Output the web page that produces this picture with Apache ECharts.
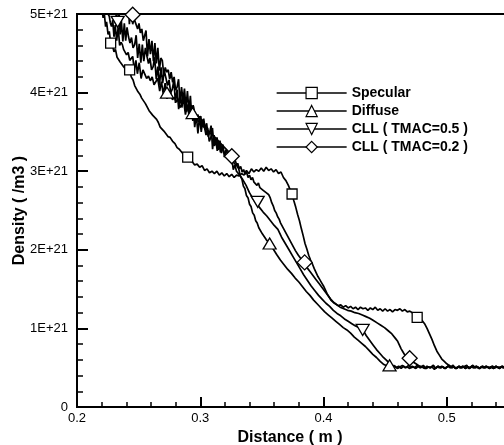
<!DOCTYPE html>
<html><head><meta charset="utf-8">
<script src="https://cdn.jsdelivr.net/npm/echarts@6.0.0/dist/echarts.min.js"></script>
<style>html,body{margin:0;padding:0;background:#fff}#c{width:504px;height:445px}</style>
</head><body><div id="c"></div><script>
// Density values are in units of 1E+21 /m3; distance in m.
const specularCurve = [
[0.2200,5.10],[0.2212,4.95],[0.2220,5.03],[0.2232,4.84],[0.2240,4.90],[0.2252,4.74],[0.2262,4.78],[0.2273,4.63],
[0.2288,4.60],[0.2300,4.52],[0.2312,4.55],[0.2325,4.45],[0.2338,4.47],[0.2350,4.39],[0.2362,4.41],[0.2378,4.33],
[0.2392,4.35],[0.2410,4.27],[0.2427,4.29],[0.2440,4.20],[0.2455,4.16],[0.2468,4.09],[0.2480,4.10],[0.2495,4.01],
[0.2510,3.98],[0.2525,3.93],[0.2540,3.95],[0.2555,3.86],[0.2570,3.84],[0.2585,3.77],[0.2600,3.78],[0.2615,3.71],
[0.2630,3.70],[0.2646,3.66],[0.2660,3.62],[0.2675,3.56],[0.2690,3.58],[0.2705,3.51],[0.2720,3.49],[0.2738,3.44],
[0.2755,3.43],[0.2776,3.38],[0.2795,3.35],[0.2812,3.30],[0.2830,3.28],[0.2850,3.24],[0.2870,3.21],[0.2898,3.18],
[0.2915,3.13],[0.2935,3.12],[0.2955,3.08],[0.2975,3.09],[0.2995,3.05],[0.3015,3.07],[0.3035,3.01],[0.3055,3.03],
[0.3075,2.98],[0.3095,3.00],[0.3115,2.97],[0.3135,3.00],[0.3155,2.95],[0.3175,2.98],[0.3195,2.94],[0.3215,2.97],
[0.3235,2.93],[0.3255,2.96],[0.3275,2.92],[0.3295,2.95],[0.3315,2.94],[0.3335,2.97],[0.3355,2.95],[0.3375,3.01],
[0.3395,2.97],[0.3415,3.03],[0.3435,2.99],[0.3455,3.02],[0.3475,3.00],[0.3495,3.04],[0.3515,3.00],[0.3535,3.05],
[0.3555,3.01],[0.3575,3.03],[0.3595,2.99],[0.3615,3.02],[0.3635,2.97],[0.3655,2.99],[0.3675,2.92],[0.3695,2.88],
[0.3715,2.82],[0.3730,2.76],[0.3745,2.71],[0.3760,2.62],[0.3775,2.54],[0.3790,2.45],[0.3805,2.37],[0.3820,2.27],
[0.3835,2.18],[0.3850,2.08],[0.3865,2.01],[0.3880,1.93],[0.3895,1.87],[0.3910,1.82],[0.3925,1.76],[0.3940,1.71],
[0.3955,1.66],[0.3970,1.62],[0.3985,1.58],[0.4000,1.54],[0.4015,1.49],[0.4030,1.44],[0.4045,1.40],[0.4060,1.36],
[0.4080,1.33],[0.4100,1.31],[0.4120,1.29],[0.4140,1.30],[0.4160,1.27],[0.4180,1.29],[0.4200,1.26],[0.4220,1.28],
[0.4240,1.25],[0.4260,1.27],[0.4280,1.24],[0.4300,1.27],[0.4320,1.25],[0.4340,1.26],[0.4360,1.23],[0.4380,1.26],
[0.4400,1.24],[0.4420,1.27],[0.4440,1.23],[0.4460,1.25],[0.4480,1.22],[0.4500,1.25],[0.4520,1.22],[0.4540,1.24],
[0.4560,1.21],[0.4580,1.24],[0.4600,1.23],[0.4620,1.25],[0.4640,1.22],[0.4660,1.24],[0.4680,1.21],[0.4700,1.22],
[0.4720,1.20],[0.4740,1.17],[0.4760,1.14],[0.4780,1.12],[0.4800,1.10],[0.4820,1.06],[0.4840,1.00],[0.4860,0.93],
[0.4880,0.86],[0.4900,0.78],[0.4920,0.71],[0.4940,0.66],[0.4960,0.61],[0.4980,0.58],[0.5000,0.55],[0.5020,0.53]];

const diffuseCurve = [
[0.2235,5.12],[0.2245,5.03],[0.2252,5.00],[0.2262,4.97],[0.2270,4.89],[0.2280,4.84],[0.2290,4.92],[0.2300,4.71],
[0.2310,4.86],[0.2322,4.66],[0.2334,4.83],[0.2346,4.60],[0.2358,4.64],[0.2368,4.61],[0.2378,4.55],[0.2390,4.54],
[0.2402,4.48],[0.2415,4.51],[0.2428,4.41],[0.2440,4.40],[0.2452,4.46],[0.2465,4.28],[0.2478,4.41],[0.2490,4.24],
[0.2505,4.38],[0.2520,4.18],[0.2535,4.29],[0.2550,4.27],[0.2565,4.18],[0.2580,4.21],[0.2595,4.15],[0.2610,4.20],
[0.2625,4.10],[0.2640,4.11],[0.2655,4.18],[0.2671,4.02],[0.2685,4.14],[0.2700,3.98],[0.2715,4.12],[0.2730,3.92],
[0.2745,4.03],[0.2760,4.00],[0.2775,3.91],[0.2790,3.94],[0.2805,3.88],[0.2820,3.92],[0.2835,3.81],[0.2850,3.83],
[0.2865,3.90],[0.2880,3.72],[0.2895,3.85],[0.2910,3.70],[0.2925,3.84],[0.2940,3.64],[0.2955,3.74],[0.2970,3.71],
[0.2985,3.63],[0.3000,3.61],[0.3015,3.63],[0.3030,3.56],[0.3045,3.58],[0.3060,3.52],[0.3075,3.54],[0.3090,3.47],
[0.3105,3.49],[0.3120,3.43],[0.3135,3.45],[0.3150,3.38],[0.3165,3.40],[0.3180,3.33],[0.3195,3.35],[0.3210,3.28],
[0.3225,3.30],[0.3240,3.23],[0.3255,3.24],[0.3270,3.16],[0.3285,3.13],[0.3300,3.06],[0.3312,3.03],[0.3325,2.94],
[0.3338,2.90],[0.3350,2.81],[0.3362,2.78],[0.3375,2.69],[0.3388,2.66],[0.3400,2.58],[0.3412,2.55],[0.3425,2.47],
[0.3438,2.44],[0.3450,2.37],[0.3462,2.34],[0.3475,2.28],[0.3490,2.26],[0.3505,2.20],[0.3520,2.18],[0.3535,2.13],
[0.3550,2.12],[0.3563,2.08],[0.3578,2.05],[0.3592,2.01],[0.3606,1.99],[0.3620,1.94],[0.3635,1.92],[0.3650,1.87],
[0.3665,1.86],[0.3680,1.81],[0.3695,1.80],[0.3710,1.75],[0.3725,1.74],[0.3740,1.70],[0.3755,1.69],[0.3770,1.64],
[0.3785,1.63],[0.3800,1.59],[0.3815,1.58],[0.3830,1.53],[0.3845,1.52],[0.3860,1.47],[0.3875,1.46],[0.3890,1.42],
[0.3905,1.41],[0.3920,1.36],[0.3935,1.35],[0.3950,1.31],[0.3965,1.30],[0.3980,1.26],[0.3995,1.25],[0.4010,1.21],
[0.4025,1.21],[0.4040,1.17],[0.4055,1.16],[0.4070,1.13],[0.4085,1.12],[0.4100,1.09],[0.4115,1.08],[0.4130,1.05],
[0.4145,1.04],[0.4160,1.01],[0.4175,1.01],[0.4190,0.98],[0.4205,0.98],[0.4220,0.94],[0.4235,0.93],[0.4250,0.89],
[0.4265,0.88],[0.4280,0.85],[0.4295,0.85],[0.4310,0.81],[0.4325,0.80],[0.4340,0.77],[0.4355,0.76],[0.4370,0.72],
[0.4385,0.71],[0.4400,0.67],[0.4415,0.66],[0.4430,0.63],[0.4445,0.62],[0.4460,0.58],[0.4475,0.57],[0.4490,0.54],
[0.4505,0.55],[0.4520,0.52],[0.4536,0.53]];

const cll05Curve = [
[0.2290,5.12],[0.2298,5.09],[0.2306,5.00],[0.2315,5.03],[0.2322,4.89],[0.2330,4.93],[0.2340,5.07],[0.2350,4.74],
[0.2360,4.91],[0.2372,4.65],[0.2384,4.88],[0.2395,4.66],[0.2406,4.83],[0.2418,4.71],[0.2430,4.63],[0.2442,4.70],
[0.2455,4.57],[0.2468,4.61],[0.2480,4.73],[0.2492,4.44],[0.2505,4.62],[0.2518,4.38],[0.2530,4.61],[0.2542,4.40],
[0.2555,4.57],[0.2568,4.46],[0.2580,4.37],[0.2592,4.44],[0.2605,4.29],[0.2618,4.33],[0.2630,4.45],[0.2643,4.17],
[0.2656,4.33],[0.2669,4.09],[0.2682,4.32],[0.2695,4.12],[0.2708,4.28],[0.2721,4.19],[0.2734,4.09],[0.2747,4.16],
[0.2760,4.00],[0.2773,4.04],[0.2786,4.16],[0.2799,3.87],[0.2812,4.04],[0.2825,3.79],[0.2838,4.01],[0.2851,3.81],
[0.2864,3.97],[0.2877,3.86],[0.2890,3.76],[0.2903,3.84],[0.2916,3.68],[0.2929,3.72],[0.2942,3.84],[0.2955,3.56],
[0.2968,3.72],[0.2981,3.48],[0.2995,3.70],[0.3008,3.50],[0.3021,3.66],[0.3034,3.56],[0.3047,3.46],[0.3060,3.55],
[0.3073,3.38],[0.3086,3.43],[0.3099,3.55],[0.3112,3.32],[0.3125,3.41],[0.3138,3.26],[0.3151,3.37],[0.3164,3.24],
[0.3177,3.33],[0.3190,3.24],[0.3203,3.21],[0.3216,3.21],[0.3229,3.15],[0.3242,3.13],[0.3255,3.18],[0.3268,3.02],
[0.3281,3.08],[0.3294,3.00],[0.3307,3.02],[0.3320,2.95],[0.3333,2.96],[0.3346,2.89],[0.3359,2.90],[0.3372,2.82],
[0.3385,2.80],[0.3398,2.73],[0.3411,2.72],[0.3424,2.66],[0.3437,2.66],[0.3450,2.60],[0.3466,2.61],[0.3480,2.54],
[0.3495,2.54],[0.3510,2.48],[0.3525,2.49],[0.3540,2.43],[0.3555,2.43],[0.3570,2.37],[0.3585,2.37],[0.3600,2.31],
[0.3615,2.32],[0.3630,2.26],[0.3645,2.24],[0.3660,2.16],[0.3675,2.15],[0.3690,2.08],[0.3705,2.07],[0.3720,2.00],
[0.3735,1.99],[0.3750,1.92],[0.3765,1.91],[0.3780,1.84],[0.3795,1.83],[0.3810,1.76],[0.3825,1.74],[0.3840,1.68],
[0.3855,1.67],[0.3870,1.61],[0.3885,1.60],[0.3900,1.54],[0.3915,1.53],[0.3930,1.48],[0.3945,1.47],[0.3960,1.42],
[0.3975,1.41],[0.3990,1.37],[0.4005,1.36],[0.4020,1.32],[0.4035,1.32],[0.4050,1.28],[0.4065,1.27],[0.4080,1.23],
[0.4095,1.23],[0.4110,1.19],[0.4125,1.19],[0.4140,1.16],[0.4155,1.15],[0.4170,1.12],[0.4185,1.12],[0.4200,1.09],
[0.4215,1.08],[0.4230,1.06],[0.4245,1.05],[0.4260,1.03],[0.4275,1.03],[0.4290,1.01],[0.4305,1.00],[0.4318,0.98],
[0.4332,0.95],[0.4346,0.91],[0.4360,0.89],[0.4374,0.85],[0.4388,0.83],[0.4402,0.79],[0.4416,0.77],[0.4430,0.73],
[0.4444,0.71],[0.4458,0.68],[0.4472,0.66],[0.4486,0.63],[0.4500,0.62],[0.4514,0.59],[0.4528,0.57],[0.4542,0.54],
[0.4556,0.53]];

const cll02Curve = [
[0.2400,5.14],[0.2408,4.97],[0.2416,5.19],[0.2425,4.87],[0.2434,5.07],[0.2443,5.02],[0.2452,4.87],[0.2462,4.94],
[0.2472,4.90],[0.2482,4.91],[0.2492,4.81],[0.2503,4.88],[0.2514,4.76],[0.2526,4.81],[0.2538,4.66],[0.2549,4.68],
[0.2560,4.79],[0.2572,4.46],[0.2584,4.68],[0.2596,4.49],[0.2608,4.66],[0.2620,4.40],[0.2632,4.63],[0.2644,4.37],
[0.2656,4.57],[0.2668,4.28],[0.2680,4.44],[0.2692,4.41],[0.2704,4.23],[0.2716,4.32],[0.2728,4.26],[0.2740,4.29],
[0.2752,4.17],[0.2764,4.26],[0.2776,4.13],[0.2788,4.20],[0.2800,4.03],[0.2812,4.07],[0.2824,4.17],[0.2836,3.86],
[0.2848,4.07],[0.2860,3.90],[0.2872,4.05],[0.2884,3.80],[0.2896,4.02],[0.2908,3.77],[0.2920,3.96],[0.2932,3.67],
[0.2944,3.83],[0.2956,3.81],[0.2968,3.62],[0.2980,3.72],[0.2992,3.66],[0.3004,3.70],[0.3016,3.56],[0.3028,3.67],
[0.3040,3.53],[0.3052,3.61],[0.3064,3.44],[0.3076,3.49],[0.3088,3.58],[0.3100,3.28],[0.3112,3.46],[0.3124,3.33],
[0.3136,3.43],[0.3148,3.27],[0.3160,3.39],[0.3172,3.23],[0.3184,3.34],[0.3196,3.18],[0.3208,3.27],[0.3220,3.23],
[0.3232,3.15],[0.3244,3.15],[0.3256,3.19],[0.3268,3.12],[0.3280,3.14],[0.3292,3.07],[0.3304,3.10],[0.3316,3.03],
[0.3328,3.06],[0.3340,2.99],[0.3352,3.02],[0.3364,2.96],[0.3376,2.99],[0.3388,2.92],[0.3400,2.95],[0.3412,2.89],
[0.3424,2.92],[0.3436,2.86],[0.3448,2.88],[0.3460,2.82],[0.3472,2.85],[0.3484,2.79],[0.3496,2.81],[0.3508,2.76],
[0.3520,2.78],[0.3532,2.73],[0.3544,2.75],[0.3556,2.70],[0.3568,2.66],[0.3580,2.60],[0.3592,2.56],[0.3604,2.50],
[0.3616,2.47],[0.3628,2.42],[0.3640,2.39],[0.3652,2.34],[0.3664,2.32],[0.3676,2.27],[0.3688,2.25],[0.3700,2.20],
[0.3712,2.18],[0.3724,2.13],[0.3736,2.11],[0.3748,2.06],[0.3760,2.04],[0.3772,1.99],[0.3784,1.97],[0.3796,1.93],
[0.3808,1.92],[0.3820,1.88],[0.3832,1.86],[0.3844,1.82],[0.3856,1.81],[0.3868,1.77],[0.3880,1.76],[0.3892,1.72],
[0.3904,1.71],[0.3916,1.67],[0.3928,1.66],[0.3940,1.62],[0.3952,1.61],[0.3964,1.57],[0.3976,1.56],[0.3988,1.52],
[0.4000,1.51],[0.4012,1.47],[0.4024,1.46],[0.4036,1.42],[0.4048,1.41],[0.4060,1.37],[0.4072,1.36],[0.4084,1.33],
[0.4096,1.33],[0.4108,1.30],[0.4120,1.30],[0.4135,1.27],[0.4150,1.28],[0.4165,1.25],[0.4180,1.26],[0.4195,1.23],
[0.4210,1.25],[0.4225,1.22],[0.4240,1.23],[0.4255,1.20],[0.4270,1.22],[0.4285,1.19],[0.4300,1.20],[0.4315,1.17],
[0.4330,1.18],[0.4345,1.15],[0.4360,1.16],[0.4375,1.13],[0.4390,1.13],[0.4405,1.10],[0.4420,1.10],[0.4435,1.07],
[0.4450,1.07],[0.4465,1.04],[0.4480,1.04],[0.4495,1.01],[0.4510,1.00],[0.4525,0.97],[0.4540,0.96],[0.4555,0.93],
[0.4570,0.91],[0.4585,0.87],[0.4600,0.84],[0.4615,0.79],[0.4630,0.74],[0.4645,0.70],[0.4660,0.66],[0.4675,0.65],
[0.4690,0.62],[0.4705,0.61],[0.4720,0.58],[0.4735,0.58],[0.4750,0.55],[0.4765,0.55],[0.4780,0.52],[0.4795,0.53],
[0.4810,0.51]];

// noisy background level reached by every curve downstream
const baselineA = [
[0.455,0.51],[0.457,0.53],[0.459,0.50],[0.461,0.52],[0.463,0.49],[0.465,0.52],[0.467,0.50],[0.469,0.53],
[0.471,0.50],[0.473,0.51],[0.475,0.49],[0.477,0.52],[0.479,0.50],[0.481,0.53],[0.483,0.49],[0.485,0.51],
[0.487,0.50],[0.489,0.53],[0.491,0.49],[0.493,0.52],[0.495,0.50],[0.497,0.51],[0.499,0.49],[0.501,0.52],
[0.503,0.50],[0.505,0.53],[0.507,0.49],[0.509,0.51],[0.511,0.50],[0.513,0.52],[0.515,0.49],[0.517,0.51],
[0.519,0.50],[0.521,0.53],[0.523,0.50],[0.525,0.51],[0.527,0.49],[0.529,0.52],[0.531,0.50],[0.533,0.51],
[0.535,0.49],[0.537,0.52],[0.539,0.50],[0.541,0.51],[0.543,0.49],[0.545,0.52],[0.547,0.50],[0.549,0.51],
[0.551,0.50],[0.553,0.52],[0.555,0.50]];
const baselineB = [
[0.456,0.50],[0.458,0.52],[0.460,0.49],[0.462,0.51],[0.464,0.53],[0.466,0.50],[0.468,0.51],[0.470,0.49],
[0.472,0.52],[0.474,0.50],[0.476,0.53],[0.478,0.50],[0.480,0.51],[0.482,0.49],[0.484,0.52],[0.486,0.50],
[0.488,0.51],[0.490,0.48],[0.492,0.51],[0.494,0.50],[0.496,0.52],[0.498,0.49],[0.500,0.51],[0.502,0.53],
[0.504,0.50],[0.506,0.51],[0.508,0.49],[0.510,0.52],[0.512,0.50],[0.514,0.51],[0.516,0.53],[0.518,0.49],
[0.520,0.51],[0.522,0.50],[0.524,0.52],[0.526,0.49],[0.528,0.51],[0.530,0.50],[0.532,0.52],[0.534,0.50],
[0.536,0.51],[0.538,0.49],[0.540,0.52],[0.542,0.50],[0.544,0.51],[0.546,0.50],[0.548,0.52],[0.550,0.50],
[0.552,0.51],[0.554,0.49]];

// marker positions
const specularMarks = [[0.2273,4.63],[0.2427,4.29],[0.2898,3.18],[0.3745,2.71],[0.4760,1.14]];
const diffuseMarks  = [[0.2730,4.00],[0.2938,3.74],[0.3563,2.08],[0.4536,0.53]];
const cll05Marks    = [[0.2330,4.90],[0.3466,2.61],[0.4318,0.98]];
const cll02Marks    = [[0.2452,4.99],[0.3256,3.19],[0.3847,1.84],[0.4699,0.62]];

const seriesNames = ['Specular','Diffuse','CLL ( TMAC=0.5 )','CLL ( TMAC=0.2 )'];
const yTickValues = [0,1,2,3,4,5];

const FONT = '"Liberation Sans", Arial, Helvetica, sans-serif';
const lineStyle = {color:'#000', width:1.7};
const markStyle = {color:'#fff', borderColor:'#000', borderWidth:1.3, opacity:1};

function lineSeries(name, curve, base, symbol, rotate) {
  const last = curve[curve.length-1][0];
  return {type:'line', name, data: curve.concat(base.filter(p => p[0] > last)),
    showSymbol:false, symbol, symbolRotate: rotate || 0, lineStyle, itemStyle: markStyle,
    clip:true, animation:false, z:2, silent:true};
}
function markSeries(name, marks, symbol, size, rotate) {
  return {type:'scatter', name, data: marks, symbol, symbolSize: size, symbolRotate: rotate || 0,
    itemStyle: markStyle, z:3, animation:false, clip:true, silent:true};
}

const chart = echarts.init(document.getElementById('c'), null, {renderer:'canvas'});
chart.setOption({
  backgroundColor:'#fff',
  animation:false,
  grid:{left:77, right:-66, top:14, bottom:38, containLabel:false, outerBoundsMode:'none',
    show:true, borderColor:'#000', borderWidth:2, backgroundColor:'transparent'},
  legend:{
    show:true, orient:'vertical', left:271, top:81, itemWidth:70, itemHeight:14, itemGap:4,
    selectedMode:false, data: seriesNames, align:'left',
    itemStyle:{color:'#fff', borderColor:'#000', borderWidth:1.2},
    lineStyle:{color:'#000', width:1.3},
    textStyle:{fontFamily:FONT, fontSize:14, fontWeight:'bold', color:'#000'}
  },
  xAxis:{
    type:'value', min:0.2, max:0.6, interval:0.1,
    name:'Distance ( m )', nameLocation:'middle', nameGap:23, nameMoveOverlap:false,
    nameTextStyle:{fontFamily:FONT, fontSize:16, fontWeight:'bold', color:'#000', padding:[0,67,0,0]},
    axisLine:{show:true, onZero:false, lineStyle:{color:'#000', width:2}},
    axisTick:{show:true, inside:true, length:10, lineStyle:{color:'#000', width:2}},
    minorTick:{show:true, splitNumber:5, length:5, lineStyle:{color:'#000', width:1.5}},
    axisLabel:{fontFamily:FONT, fontSize:13, color:'#000', margin:5, formatter: v => v.toFixed(1)},
    splitLine:{show:false}
  },
  yAxis:{
    type:'value', min:yTickValues[0], max:yTickValues[yTickValues.length-1], interval:1,
    name:'Density ( /m3 )', nameLocation:'middle', nameGap:49, nameMoveOverlap:false,
    nameTextStyle:{fontFamily:FONT, fontSize:16, fontWeight:'bold', color:'#000'},
    axisLine:{show:true, onZero:false, lineStyle:{color:'#000', width:2}},
    axisTick:{show:true, inside:true, length:11, lineStyle:{color:'#000', width:2}},
    minorTick:{show:true, splitNumber:5, length:6, lineStyle:{color:'#000', width:1.5}},
    axisLabel:{fontFamily:FONT, fontSize:13, color:'#000', margin:9,
      formatter: v => v === 0 ? '0' : Math.round(v) + 'E+21'},
    splitLine:{show:false}
  },
  series:[
    lineSeries(seriesNames[0], specularCurve, baselineB, 'rect'),
    lineSeries(seriesNames[1], diffuseCurve, baselineA, 'triangle'),
    lineSeries(seriesNames[2], cll05Curve, baselineB, 'triangle', 180),
    lineSeries(seriesNames[3], cll02Curve, baselineA, 'diamond'),
    markSeries(seriesNames[0], specularMarks, 'rect', 10),
    markSeries(seriesNames[1], diffuseMarks, 'triangle', [13,11]),
    markSeries(seriesNames[2], cll05Marks, 'triangle', [13,11], 180),
    markSeries(seriesNames[3], cll02Marks, 'diamond', [15,15])
  ]
});
</script></body></html>
